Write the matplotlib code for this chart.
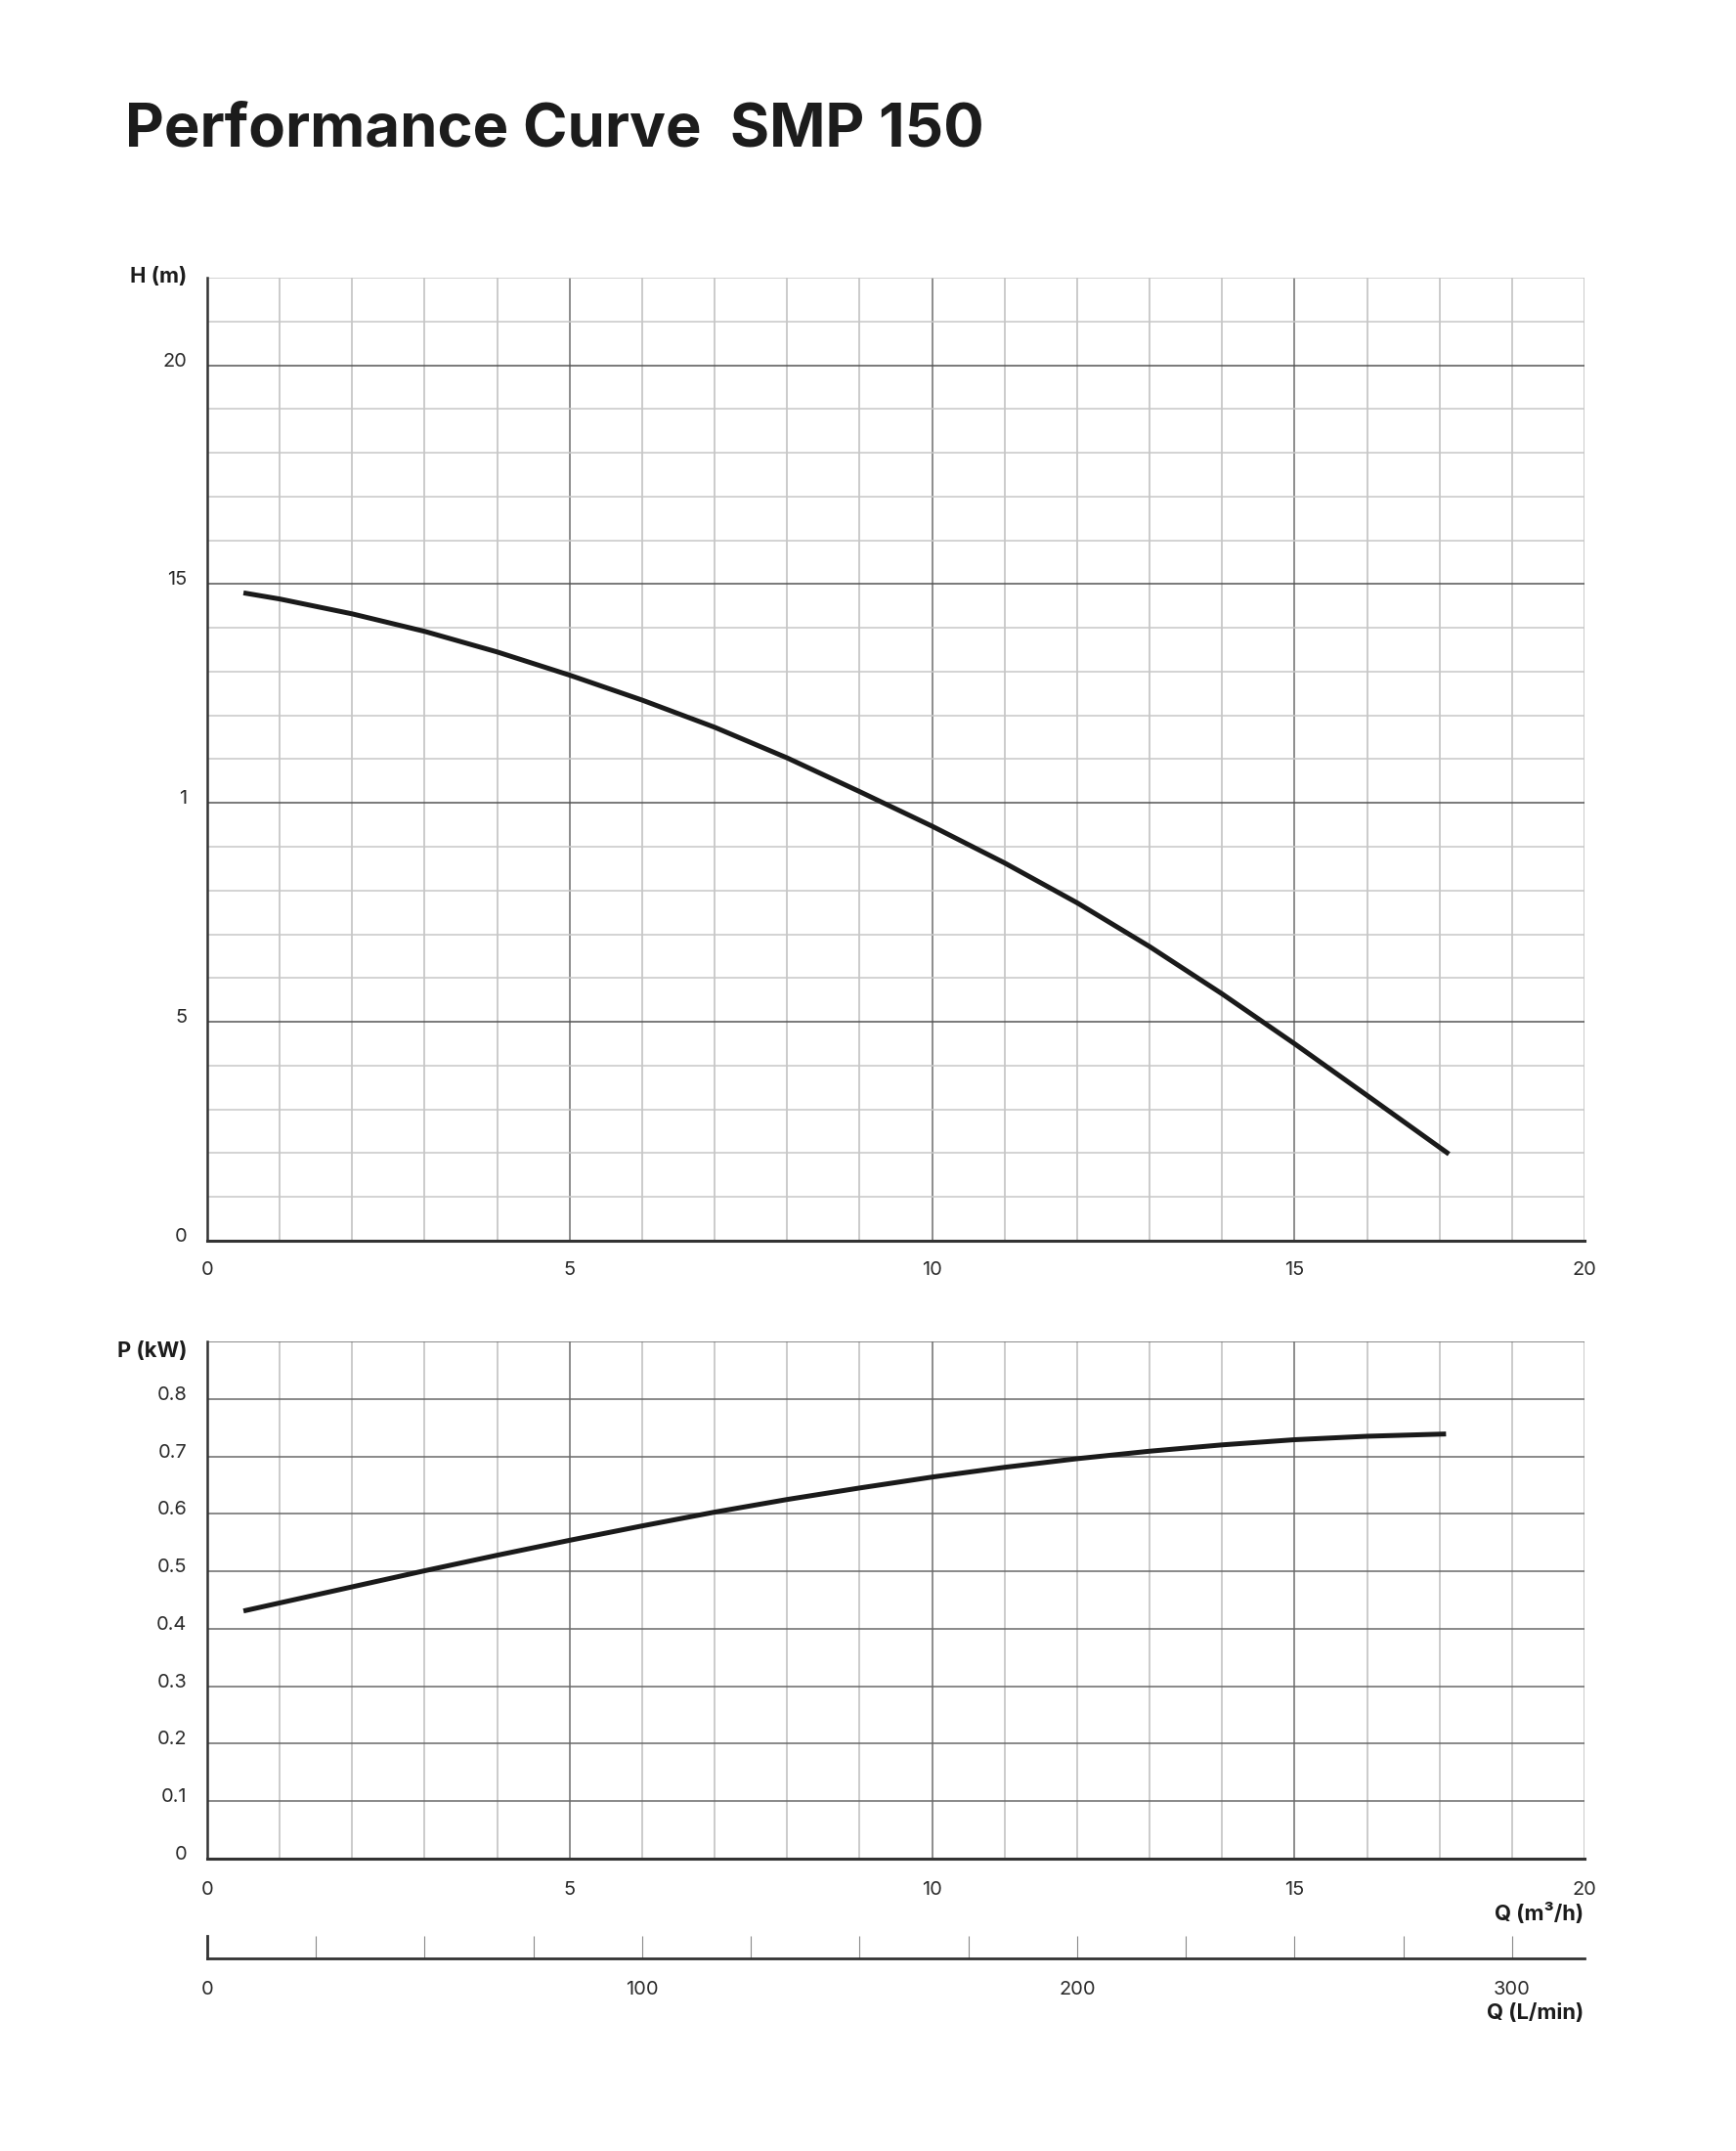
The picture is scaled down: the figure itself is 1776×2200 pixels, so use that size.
import matplotlib
matplotlib.use("Agg")
import matplotlib.pyplot as plt
from matplotlib.ticker import MultipleLocator, FuncFormatter
from matplotlib.transforms import ScaledTranslation

plt.rcParams['font.family'] = ['Inter', 'DejaVu Sans']

# ---------------- data ----------------
title = "Performance Curve  SMP 150"

q_head = [0.5, 1, 2, 3, 4, 5, 6, 7, 8, 9, 10, 11, 12, 13, 14, 15, 16, 17.13]
head_m = [14.80, 14.66, 14.32, 13.92, 13.45, 12.92, 12.35, 11.73, 11.03, 10.26,
          9.47, 8.63, 7.72, 6.72, 5.64, 4.50, 3.32, 1.98]

q_power = [0.5, 1, 2, 3, 4, 5, 6, 7, 8, 9, 10, 11, 12, 13, 14, 15, 16, 17.09]
power_kw = [0.431, 0.445, 0.473, 0.501, 0.528, 0.554, 0.579, 0.603, 0.625, 0.645,
            0.664, 0.681, 0.696, 0.709, 0.720, 0.729, 0.735, 0.739]

q_ticks = [0, 5, 10, 15, 19]
q_ticklabels = ["0", "5", "10", "15", "20"]
h_ticks = [0, 5, 10, 15, 20]
h_ticklabels = ["0", "5", "1", "15", "20"]
p_ticks = [0, 0.1, 0.2, 0.3, 0.4, 0.5, 0.6, 0.7, 0.8]
p_ticklabels = ["0", "0.1", "0.2", "0.3", "0.4", "0.5", "0.6", "0.7", "0.8"]
q_max = 19
h_max = 22
p_max = 0.9
lmin_max = q_max * 1000 / 60

# ---------------- figure ----------------
W, H = 1776, 2200
DPI = 200
fig = plt.figure(figsize=(W / DPI, H / DPI), dpi=DPI)
fig.patch.set_facecolor('white')

def fx(px):
    return px / W

def fy(py):
    return 1 - py / H

L, R = 212, 1621
ax1 = fig.add_axes([fx(L), fy(1269), fx(R - L), (1269 - 284) / H])
ax2 = fig.add_axes([fx(L), fy(1901), fx(R - L), (1901 - 1372) / H])
ax3 = fig.add_axes([fx(L), fy(2003), fx(R - L), 23 / H])

dark = '#333333'
tick_color = '#2a2a2a'
fs = 7.2
lab_fs = 7.9

def style_axes(ax):
    for s in ['top', 'right']:
        ax.spines[s].set_visible(False)
    ax.spines['left'].set_color(dark)
    ax.spines['left'].set_linewidth(0.9)
    ax.spines['bottom'].set_color(dark)
    ax.spines['bottom'].set_linewidth(1.1)
    ax.spines['left'].set_zorder(5)
    ax.spines['bottom'].set_zorder(5)
    ax.tick_params(length=0, labelsize=fs, colors=tick_color)
    ax.tick_params(axis='x', pad=7.4)
    ax.tick_params(axis='y', pad=7.4)

def lift_ylabels(ax):
    shift = ScaledTranslation(0, 6 / DPI, fig.dpi_scale_trans)
    for lab in ax.get_yticklabels():
        lab.set_transform(lab.get_transform() + shift)

# --- top: head ---
style_axes(ax1)
ax1.set_xlim(0, q_max)
ax1.set_ylim(0, h_max)
for v in range(1, q_max + 1):
    major = v % 5 == 0
    ax1.axvline(v, color='#6e6e6e' if major else '#bdbdbd', lw=0.55, zorder=1)
for v in range(1, h_max + 1):
    major = v % 5 == 0
    ax1.axhline(v, color='#555555' if major else '#c8c8c8', lw=0.55, zorder=1)
ax1.plot(q_head, head_m, color='#1a1a1a', lw=1.8, solid_capstyle='butt',
         solid_joinstyle='round', zorder=3)
ax1.set_xticks(q_ticks)
ax1.set_xticklabels(q_ticklabels)
ax1.set_yticks(h_ticks)
ax1.set_yticklabels(h_ticklabels)
lift_ylabels(ax1)

# --- middle: power ---
style_axes(ax2)
ax2.tick_params(axis='x', pad=8.2)
ax2.set_xlim(0, q_max)
ax2.set_ylim(0, p_max)
for v in range(1, q_max + 1):
    major = v % 5 == 0
    ax2.axvline(v, color='#6e6e6e' if major else '#bdbdbd', lw=0.55, zorder=1)
for i in range(1, 10):
    ax2.axhline(i / 10, color='#6a6a6a', lw=0.55, zorder=1)
ax2.plot(q_power, power_kw, color='#1a1a1a', lw=1.8, solid_capstyle='butt',
         solid_joinstyle='round', zorder=3)
ax2.set_xticks(q_ticks)
ax2.set_xticklabels(q_ticklabels)
ax2.set_yticks(p_ticks)
ax2.set_yticklabels(p_ticklabels)
lift_ylabels(ax2)

# --- bottom: L/min scale ---
ax3.set_xlim(0, lmin_max)
ax3.set_ylim(0, 1)
for s in ['top', 'right']:
    ax3.spines[s].set_visible(False)
ax3.spines['bottom'].set_color(dark)
ax3.spines['bottom'].set_linewidth(1.0)
ax3.spines['left'].set_color(dark)
ax3.spines['left'].set_linewidth(1.0)
ax3.set_yticks([])
ax3.xaxis.set_major_locator(MultipleLocator(25))
ax3.xaxis.set_major_formatter(FuncFormatter(lambda v, p: f"{int(round(v))}" if round(v) % 100 == 0 else ""))
ax3.tick_params(axis='x', direction='in', length=8.3, width=0.4, color='#8a8a8a',
                labelsize=fs, labelcolor=tick_color, pad=8.2)
ax3.patch.set_alpha(0)

# --- texts ---
fig.text(fx(128), fy(150), title, fontsize=22.2, fontweight='bold', color='#1c1c1c',
         ha='left', va='baseline')
fig.text(fx(191), fy(283), "H (m)", fontsize=lab_fs, fontweight='bold', color='#1c1c1c',
         ha='right', va='center')
fig.text(fx(191), fy(1382), "P (kW)", fontsize=lab_fs, fontweight='bold', color='#1c1c1c',
         ha='right', va='center')
fig.text(fx(1620), fy(1957), "Q (m³/h)", fontsize=lab_fs, fontweight='bold', color='#1c1c1c',
         ha='right', va='center')
fig.text(fx(1620), fy(2059), "Q (L/min)", fontsize=lab_fs, fontweight='bold', color='#1c1c1c',
         ha='right', va='center')

fig.savefig("out.png", dpi=DPI, facecolor='white')
